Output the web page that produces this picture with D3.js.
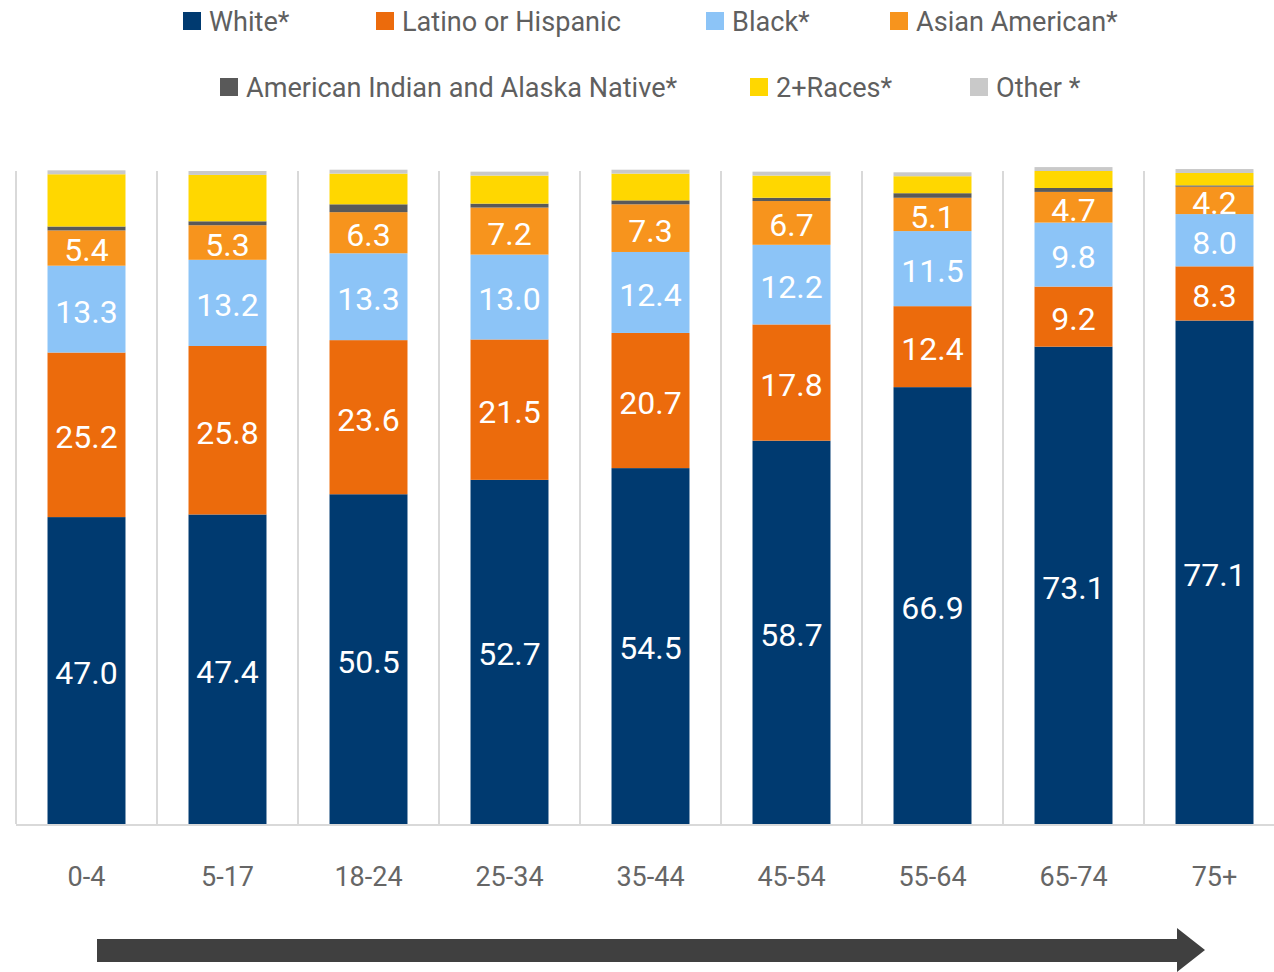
<!DOCTYPE html>
<html><head><meta charset="utf-8">
<script src="https://cdn.jsdelivr.net/npm/d3@7"></script>
<style>body{margin:0;background:#fff;}svg{display:block;font-family:Roboto,"Noto Sans",sans-serif;}</style>
</head><body><svg id="c" width="1274" height="972"></svg>
<script>
const ageGroups = ["0-4","5-17","18-24","25-34","35-44","45-54","55-64","65-74","75+"];
const seriesNames = ["White*","Latino or Hispanic","Black*","Asian American*","American Indian and Alaska Native*","2+Races*","Other *"];
const seriesColors = ["#003a70","#ec6b0c","#8cc4f7","#f7941d","#595959","#ffd700","#c9c9c9"];
const white    = [47.0,47.4,50.5,52.7,54.5,58.7,66.9,73.1,77.1];
const latino   = [25.2,25.8,23.6,21.5,20.7,17.8,12.4,9.2,8.3];
const black    = [13.3,13.2,13.3,13.0,12.4,12.2,11.5,9.8,8.0];
const asian    = [5.4,5.3,6.3,7.2,7.3,6.7,5.1,4.7,4.2];
const aian     = [0.6,0.6,1.2,0.6,0.6,0.5,0.7,0.6,0.2];
const twoPlus  = [8.0,7.1,4.7,4.3,4.1,3.4,2.6,2.6,1.9];
const other    = [0.6,0.6,0.6,0.6,0.6,0.6,0.6,0.6,0.6];
const labeled  = [true,true,true,true,false,false,false];
const allSeries = [white,latino,black,asian,aian,twoPlus,other];

const rows = ageGroups.map((g,i)=>{const o={group:g};seriesNames.forEach((s,k)=>o[s]=allSeries[k][i]);return o;});
const stack = d3.stack().keys(seriesNames)(rows);

const svg = d3.select("#c");
const x = d3.scaleBand().domain(ageGroups).range([16,16+141*9]).paddingInner(0.447).paddingOuter(0.2235);
const y = d3.scaleLinear().domain([0,100]).range([824,171]);

// vertical separators
const sepX = ageGroups.map((g,i)=>16+141*i);
svg.append("g").selectAll("line").data(sepX).join("line")
  .attr("x1",d=>d).attr("x2",d=>d).attr("y1",171).attr("y2",824)
  .attr("stroke","#d9d9d9").attr("stroke-width",2);
svg.append("line").attr("x1",16).attr("x2",1274).attr("y1",825).attr("y2",825)
  .attr("stroke","#d9d9d9").attr("stroke-width",2);

const layers = svg.append("g").selectAll("g").data(stack).join("g")
  .attr("fill",(d,i)=>seriesColors[i]);
layers.selectAll("rect").data(d=>d).join("rect")
  .attr("x",d=>x(d.data.group)).attr("width",x.bandwidth())
  .attr("y",d=>y(d[1])).attr("height",d=>y(d[0])-y(d[1]));

stack.forEach((layer,k)=>{
  if(!labeled[k]) return;
  svg.append("g").selectAll("text").data(layer).join("text")
    .attr("x",d=>x(d.data.group)+x.bandwidth()/2)
    .attr("y",d=>(y(d[0])+y(d[1]))/2)
    .attr("dy","0.42em").attr("text-anchor","middle")
    .attr("fill","#fff").attr("font-size",32)
    .text(d=>(d[1]-d[0]).toFixed(1));
});

// x axis labels
const xAxis = d3.axisBottom(x).tickSize(0).tickPadding(0);
const ax = svg.append("g").attr("transform","translate(0,876)").call(xAxis);
ax.select(".domain").remove();
ax.selectAll("text").attr("font-size",27).attr("fill","#666").attr("dy","0.36em")
  .attr("font-family","Roboto");

// legend
const legendPos = [[183,21],[376,21],[706,21],[890,21],[220,87],[750,87],[970,87]];
const lg = svg.append("g").selectAll("g").data(seriesNames).join("g")
  .attr("transform",(d,i)=>`translate(${legendPos[i][0]},${legendPos[i][1]})`);
lg.append("rect").attr("x",0).attr("y",-9).attr("width",18).attr("height",18)
  .attr("fill",(d,i)=>seriesColors[i]);
lg.append("text").attr("x",26).attr("dy","0.36em").attr("font-size",27.1)
  .attr("fill","#5f5f5f").text(d=>d);

// arrow
svg.append("path")
  .attr("d","M97,939 L1177,939 L1177,928 L1205,950 L1177,972 L1177,962 L97,962 Z")
  .attr("fill","#404040");
</script></body></html>
